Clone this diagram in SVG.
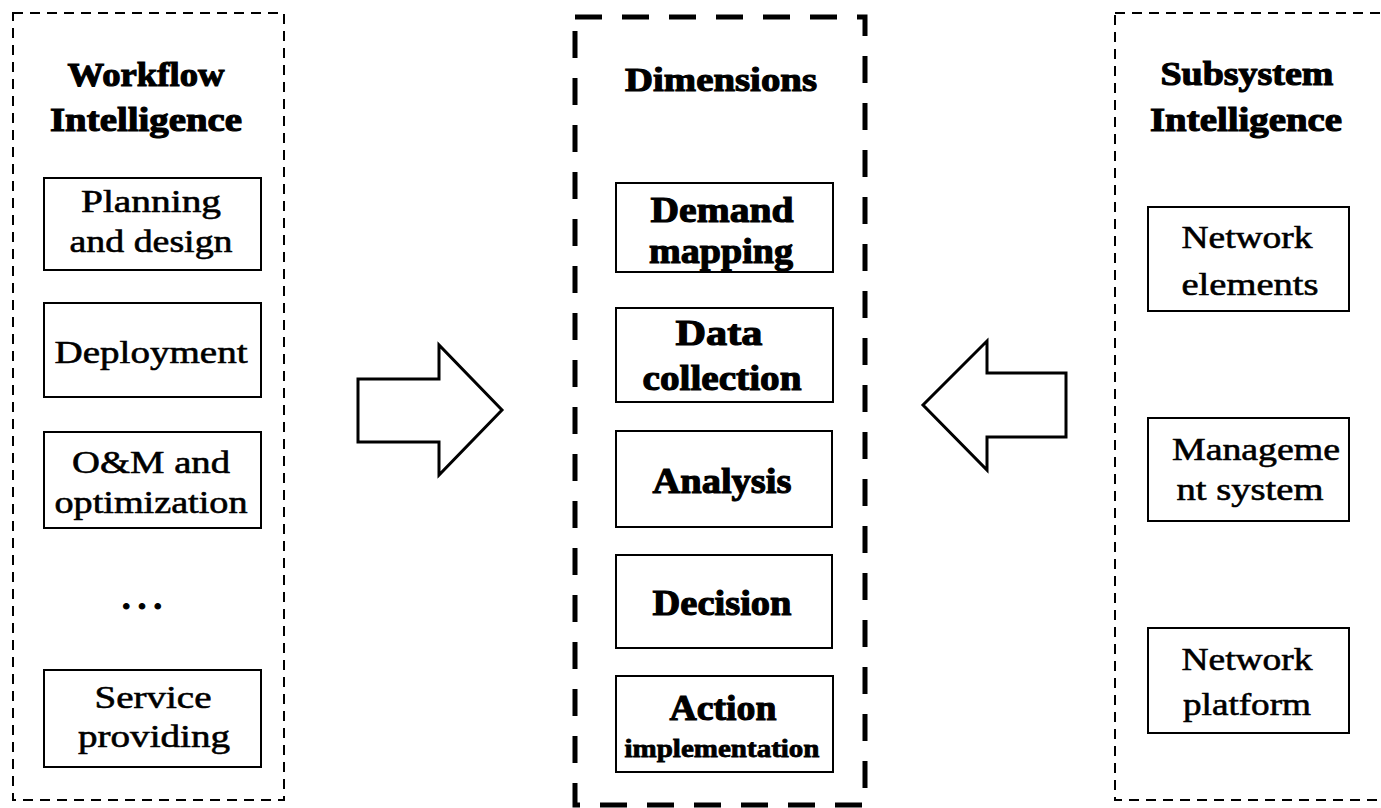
<svg xmlns="http://www.w3.org/2000/svg" width="1381" height="808" viewBox="0 0 1381 808">
  <style>
    .panel { fill: none; stroke: #000; stroke-width: 2; stroke-dasharray: 10 7; }
    .panel-main { fill: none; stroke: #000; stroke-width: 5; stroke-dasharray: 27 20; }
    .box { fill: #fff; stroke: #000; stroke-width: 2; }
    .arrow { fill: #fff; stroke: #000; stroke-width: 3; stroke-linejoin: miter; }
    text { font-family: "Liberation Serif", "Times New Roman", serif; fill: #000; text-anchor: middle; }
    .title { font-size: 34px; font-weight: bold; stroke: #000; stroke-width: 1.1; }
    .bold { font-size: 36px; font-weight: bold; stroke: #000; stroke-width: 1.1; }
    .small { font-size: 26px; font-weight: bold; stroke: #000; stroke-width: 0.8; }
    .reg { font-size: 32px; stroke: #000; stroke-width: 0.6; }
  </style>
  <rect width="1381" height="808" fill="#fff"/>

  <!-- Workflow Intelligence panel -->
  <g id="workflow-intelligence">
    <rect class="panel" x="13" y="13" width="271" height="787"/>
    <text class="title" x="146" y="86" textLength="157" lengthAdjust="spacingAndGlyphs">Workflow</text>
    <text class="title" x="146" y="131" textLength="192" lengthAdjust="spacingAndGlyphs">Intelligence</text>
  </g>
  <g id="planning-design">
    <rect class="box" x="44" y="178" width="217" height="92"/>
    <text class="reg" x="151" y="212" textLength="140" lengthAdjust="spacingAndGlyphs">Planning</text>
    <text class="reg" x="151" y="252" textLength="163" lengthAdjust="spacingAndGlyphs">and design</text>
  </g>
  <g id="deployment">
    <rect class="box" x="44" y="303" width="217" height="94"/>
    <text class="reg" x="151" y="363" textLength="193" lengthAdjust="spacingAndGlyphs">Deployment</text>
  </g>
  <g id="om-optimization">
    <rect class="box" x="44" y="432" width="217" height="96"/>
    <text class="reg" x="151" y="473" textLength="158" lengthAdjust="spacingAndGlyphs">O&amp;M and</text>
    <text class="reg" x="151" y="513" textLength="193" lengthAdjust="spacingAndGlyphs">optimization</text>
  </g>
  <g id="ellipsis">
    <text class="title" x="142" y="609" textLength="40" lengthAdjust="spacing">. . .</text>
  </g>
  <g id="service-providing">
    <rect class="box" x="44" y="670" width="217" height="97"/>
    <text class="reg" x="153" y="708" textLength="117" lengthAdjust="spacingAndGlyphs">Service</text>
    <text class="reg" x="154" y="747" textLength="152" lengthAdjust="spacingAndGlyphs">providing</text>
  </g>

  <!-- Dimensions panel -->
  <g id="dimensions">
    <rect class="panel-main" x="575" y="17" width="290" height="788"/>
    <text class="title" x="721" y="91" textLength="192" lengthAdjust="spacingAndGlyphs">Dimensions</text>
  </g>
  <g id="demand-mapping">
    <rect class="box" x="616" y="183" width="217" height="89"/>
    <text class="bold" x="722" y="222" textLength="143" lengthAdjust="spacingAndGlyphs">Demand</text>
    <text class="bold" x="721" y="263" textLength="144" lengthAdjust="spacingAndGlyphs">mapping</text>
  </g>
  <g id="data-collection">
    <rect class="box" x="616" y="308" width="217" height="94"/>
    <text class="bold" x="719" y="345" textLength="87" lengthAdjust="spacingAndGlyphs">Data</text>
    <text class="bold" x="722" y="390" textLength="159" lengthAdjust="spacingAndGlyphs">collection</text>
  </g>
  <g id="analysis">
    <rect class="box" x="616" y="431" width="216" height="96"/>
    <text class="bold" x="722" y="493" textLength="139" lengthAdjust="spacingAndGlyphs">Analysis</text>
  </g>
  <g id="decision">
    <rect class="box" x="616" y="555" width="216" height="93"/>
    <text class="bold" x="722" y="615" textLength="139" lengthAdjust="spacingAndGlyphs">Decision</text>
  </g>
  <g id="action-implementation">
    <rect class="box" x="616" y="676" width="217" height="96"/>
    <text class="bold" x="723" y="720" textLength="107" lengthAdjust="spacingAndGlyphs">Action</text>
    <text class="small" x="722" y="757" textLength="195" lengthAdjust="spacingAndGlyphs">implementation</text>
  </g>

  <!-- Subsystem Intelligence panel (runs past the right edge) -->
  <g id="subsystem-intelligence">
    <rect class="panel" x="1115" y="13" width="290" height="787"/>
    <text class="title" x="1247" y="85" textLength="173" lengthAdjust="spacingAndGlyphs">Subsystem</text>
    <text class="title" x="1246" y="131" textLength="192" lengthAdjust="spacingAndGlyphs">Intelligence</text>
  </g>
  <g id="network-elements">
    <rect class="box" x="1148" y="207" width="201" height="104"/>
    <text class="reg" x="1247" y="248" textLength="131" lengthAdjust="spacingAndGlyphs">Network</text>
    <text class="reg" x="1250" y="295" textLength="137" lengthAdjust="spacingAndGlyphs">elements</text>
  </g>
  <g id="management-system">
    <rect class="box" x="1148" y="418" width="201" height="103"/>
    <text class="reg" x="1256" y="460" textLength="168" lengthAdjust="spacingAndGlyphs">Manageme</text>
    <text class="reg" x="1250" y="500" textLength="147" lengthAdjust="spacingAndGlyphs">nt system</text>
  </g>
  <g id="network-platform">
    <rect class="box" x="1148" y="628" width="201" height="105"/>
    <text class="reg" x="1247" y="670" textLength="131" lengthAdjust="spacingAndGlyphs">Network</text>
    <text class="reg" x="1247" y="715" textLength="128" lengthAdjust="spacingAndGlyphs">platform</text>
  </g>

  <!-- Block arrows feeding the dimensions -->
  <g id="connectors">
    <polygon class="arrow" points="358,379 439,379 439,345 502,410 439,475 439,442 358,442"/>
    <polygon class="arrow" points="1066,373 987,373 987,341 923,405 987,470 987,437 1066,437"/>
  </g>
</svg>
